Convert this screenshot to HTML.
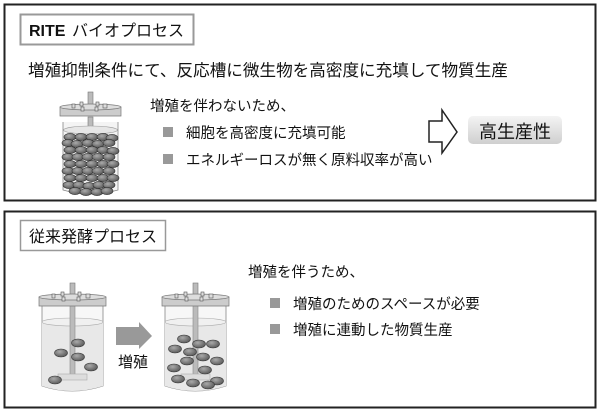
<!DOCTYPE html>
<html><head><meta charset="utf-8"><style>
html,body{margin:0;padding:0;background:#fff;}
svg{display:block;}
text{font-family:"Liberation Sans","Noto Sans CJK JP",sans-serif;fill:#111;}
</style></head><body>
<svg width="601" height="412" viewBox="0 0 601 412" xmlns="http://www.w3.org/2000/svg">
<defs>
<linearGradient id="bg" x1="0" y1="0" x2="0" y2="1"><stop offset="0" stop-color="#f4f4f4"/><stop offset="1" stop-color="#cfcfcf"/></linearGradient>
<radialGradient id="cell" cx="0.4" cy="0.35" r="0.7"><stop offset="0" stop-color="#aaa"/><stop offset="1" stop-color="#555"/></radialGradient>
<g id="cellE"><ellipse rx="6" ry="3.6" fill="url(#cell)" stroke="#333" stroke-width="0.6"/></g>
<g id="cellB"><ellipse rx="6.5" ry="4" fill="url(#cell)" stroke="#333" stroke-width="0.6"/></g>
</defs>
<!-- top panel -->
<rect x="4.5" y="4.5" width="591" height="196" fill="#fff" stroke="#222" stroke-width="2"/>
<rect x="20.5" y="14.5" width="173" height="30" fill="#fff" stroke="#999" stroke-width="2"/>
<text x="29" y="36" font-size="16" font-weight="bold">RITE</text><text x="72" y="36" font-size="16">バイオプロセス</text>
<text x="28" y="76" font-size="16.6">増殖抑制条件にて、反応槽に微生物を高密度に充填して物質生産</text>
<!-- top reactor -->
<g>
<rect x="88" y="92" width="5" height="20" fill="#bbb" stroke="#777" stroke-width="0.6"/>
<path d="M63 122 L63 190 Q90 198 118 190 L118 122" fill="#f4f4f4" stroke="#888" stroke-width="0.8"/>
<rect x="88" y="117" width="5" height="16" fill="#bbb" stroke="#777" stroke-width="0.6"/>
<ellipse cx="90.5" cy="130" rx="27" ry="4" fill="#e6e6e6" stroke="#999" stroke-width="0.6"/>
<path d="M60 107 L121 107 L121 116 L60 116 Z" fill="#ccc" stroke="#777" stroke-width="0.7"/>
<ellipse cx="90.5" cy="107" rx="30.5" ry="3" fill="#ddd" stroke="#777" stroke-width="0.7"/>
<g fill="#ddd" stroke="#555" stroke-width="0.6">
<rect x="72" y="104" width="3" height="4"/><rect x="80" y="102" width="3" height="4"/><rect x="81" y="107" width="3" height="4"/><rect x="96" y="102" width="3" height="4"/><rect x="95" y="107" width="3" height="4"/><rect x="103" y="104" width="4" height="4"/></g>
<g>
<use href="#cellE" x="70" y="137"/><use href="#cellE" x="81" y="137"/><use href="#cellE" x="92" y="137"/><use href="#cellE" x="103" y="137"/><use href="#cellE" x="112" y="138"/>
<use href="#cellE" x="68" y="143"/><use href="#cellE" x="77" y="144"/><use href="#cellE" x="88" y="143"/><use href="#cellE" x="98" y="144"/><use href="#cellE" x="109" y="143"/>
<use href="#cellE" x="70" y="150"/><use href="#cellE" x="81" y="150"/><use href="#cellE" x="92" y="150"/><use href="#cellE" x="103" y="150"/><use href="#cellE" x="113" y="151"/>
<use href="#cellE" x="68" y="157"/><use href="#cellE" x="78" y="157"/><use href="#cellE" x="88" y="157"/><use href="#cellE" x="98" y="157"/><use href="#cellE" x="109" y="157"/>
<use href="#cellE" x="70" y="164"/><use href="#cellE" x="81" y="164"/><use href="#cellE" x="92" y="164"/><use href="#cellE" x="103" y="164"/><use href="#cellE" x="113" y="164"/>
<use href="#cellE" x="68" y="171"/><use href="#cellE" x="78" y="171"/><use href="#cellE" x="88" y="171"/><use href="#cellE" x="98" y="171"/><use href="#cellE" x="109" y="171"/>
<use href="#cellE" x="70" y="178"/><use href="#cellE" x="81" y="178"/><use href="#cellE" x="92" y="178"/><use href="#cellE" x="103" y="178"/><use href="#cellE" x="113" y="178"/>
<use href="#cellE" x="69" y="185"/><use href="#cellE" x="79" y="185"/><use href="#cellE" x="89" y="186"/><use href="#cellE" x="99" y="185"/><use href="#cellE" x="109" y="185"/>
<use href="#cellE" x="75" y="191"/><use href="#cellE" x="86" y="192"/><use href="#cellE" x="97" y="192"/><use href="#cellE" x="107" y="191"/>
</g>
</g>
<text x="150" y="111" font-size="14.5">増殖を伴わないため、</text>
<rect x="163" y="127" width="10" height="10" fill="#999"/>
<text x="186" y="138" font-size="14.5">細胞を高密度に充填可能</text>
<rect x="163" y="154" width="10" height="10" fill="#999"/>
<text x="186" y="165" font-size="14.5">エネルギーロスが無く原料収率が高い</text>
<path d="M429 121 L442 121 L442 110 L457 132 L442 153 L442 142 L429 142 Z" fill="#fff" stroke="#222" stroke-width="1.5"/>
<rect x="468" y="116" width="94" height="28" rx="5" fill="url(#bg)"/>
<text x="515" y="138" font-size="18" text-anchor="middle">高生産性</text>

<!-- bottom panel -->
<rect x="4.5" y="211.5" width="591" height="196" fill="#fff" stroke="#222" stroke-width="2"/>
<rect x="20.5" y="220.5" width="145" height="30" fill="#fff" stroke="#999" stroke-width="1.5"/>
<text x="29" y="242" font-size="16">従来発酵プロセス</text>
<text x="248" y="277" font-size="14.5">増殖を伴うため、</text>
<rect x="270" y="298" width="10" height="10" fill="#999"/>
<text x="293" y="309" font-size="14.5">増殖のためのスペースが必要</text>
<rect x="270" y="324" width="10" height="10" fill="#999"/>
<text x="293" y="335" font-size="14.5">増殖に連動した物質生産</text>

<!-- reactor 1 -->
<g>
<rect x="70" y="283" width="5" height="20" fill="#bbb" stroke="#777" stroke-width="0.6"/>
<path d="M42 305 L42 386 Q72 396 103 386 L103 305" fill="#f7f7f7" stroke="#888" stroke-width="0.8"/>
<path d="M42 322 L42 386 Q72 396 103 386 L103 322 Z" fill="#e8e8e8"/>
<ellipse cx="72.5" cy="322" rx="30.5" ry="4" fill="#f0f0f0" stroke="#aaa" stroke-width="0.6"/>
<rect x="70" y="305" width="5" height="73" fill="#bbb" stroke="#888" stroke-width="0.6"/>
<rect x="58" y="374" width="29" height="6" fill="#ddd" stroke="#aaa" stroke-width="0.6"/>
<path d="M39 297 L106 297 L106 306 L39 306 Z" fill="#ccc" stroke="#777" stroke-width="0.7"/>
<ellipse cx="72.5" cy="297" rx="33.5" ry="3" fill="#ddd" stroke="#777" stroke-width="0.7"/>
<g fill="#ddd" stroke="#555" stroke-width="0.6"><rect x="52" y="294" width="3" height="4"/><rect x="61" y="292" width="3" height="4"/><rect x="62" y="297" width="3" height="4"/><rect x="78" y="292" width="3" height="4"/><rect x="77" y="297" width="3" height="4"/><rect x="86" y="294" width="4" height="4"/></g>
<use href="#cellB" x="78" y="343"/><use href="#cellB" x="61" y="353"/><use href="#cellB" x="78" y="357"/><use href="#cellB" x="91" y="367"/><use href="#cellB" x="55" y="380"/>
</g>
<path d="M116 327 L139 327 L139 322 L152 336 L139 349 L139 345 L116 345 Z" fill="#999"/>
<text x="118" y="367" font-size="15">増殖</text>
<!-- reactor 2 -->
<g>
<rect x="193" y="283" width="5" height="20" fill="#bbb" stroke="#777" stroke-width="0.6"/>
<path d="M165 305 L165 386 Q195 396 226 386 L226 305" fill="#f7f7f7" stroke="#888" stroke-width="0.8"/>
<path d="M165 322 L165 386 Q195 396 226 386 L226 322 Z" fill="#e8e8e8"/>
<ellipse cx="195.5" cy="322" rx="30.5" ry="4" fill="#f0f0f0" stroke="#aaa" stroke-width="0.6"/>
<rect x="193" y="305" width="5" height="73" fill="#bbb" stroke="#888" stroke-width="0.6"/>
<rect x="181" y="374" width="29" height="6" fill="#ddd" stroke="#aaa" stroke-width="0.6"/>
<path d="M162 297 L229 297 L229 306 L162 306 Z" fill="#ccc" stroke="#777" stroke-width="0.7"/>
<ellipse cx="195.5" cy="297" rx="33.5" ry="3" fill="#ddd" stroke="#777" stroke-width="0.7"/>
<g fill="#ddd" stroke="#555" stroke-width="0.6"><rect x="175" y="294" width="3" height="4"/><rect x="184" y="292" width="3" height="4"/><rect x="185" y="297" width="3" height="4"/><rect x="201" y="292" width="3" height="4"/><rect x="200" y="297" width="3" height="4"/><rect x="209" y="294" width="4" height="4"/></g>
<use href="#cellB" x="184" y="339"/><use href="#cellB" x="199" y="344"/><use href="#cellB" x="213" y="344"/><use href="#cellB" x="175" y="349"/><use href="#cellB" x="190" y="352"/><use href="#cellB" x="203" y="357"/><use href="#cellB" x="217" y="361"/><use href="#cellB" x="187" y="361"/><use href="#cellB" x="174" y="368"/><use href="#cellB" x="205" y="370"/><use href="#cellB" x="217" y="381"/><use href="#cellB" x="178" y="379"/><use href="#cellB" x="193" y="383"/><use href="#cellB" x="208" y="385"/>
</g>
</svg>
</body></html>
